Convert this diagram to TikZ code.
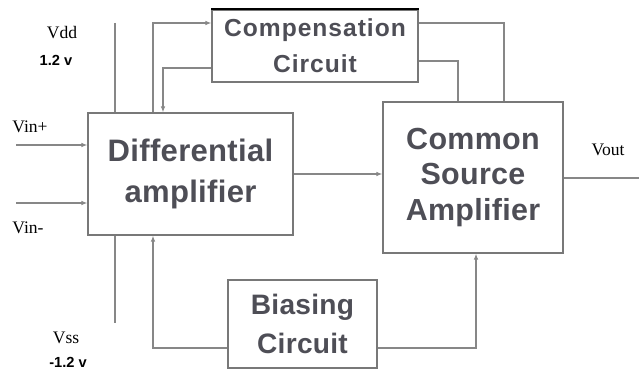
\documentclass[tikz,border=0pt]{standalone}
\usepackage{fontspec}
\usetikzlibrary{arrows.meta}
\setmainfont{Liberation Serif}
\newfontfamily\blockfont[LetterSpace=1]{Liberation Sans Bold}
\newfontfamily\compfont[LetterSpace=4]{Liberation Sans Bold}
\newfontfamily\supplyfont{Liberation Sans}
\definecolor{boxgray}{RGB}{120,120,120}
\definecolor{wiregray}{RGB}{135,135,135}
\definecolor{txtgray}{RGB}{78,78,86}

\begin{document}
\begin{tikzpicture}[
    x=0.03cm, y=-0.03cm,
    blk/.style={rectangle, draw=boxgray, line width=1.2pt, align=center, text=txtgray, inner sep=0pt},
    wire/.style={draw=wiregray, line width=1.1pt},
    sig/.style={wire, -{Latex[length=5pt,width=4pt]}},
    lbl/.style={font=\fontsize{15}{17}\selectfont},
    supply/.style={font=\supplyfont\bfseries\fontsize{12.5}{14}\selectfont}
]
\useasboundingbox (0,0) rectangle (639,370);

% Bloc Compensation
\node[blk, minimum width=6.18cm, minimum height=2.16cm, font=\compfont\fontsize{21}{31}\selectfont] (comp) at (315,46) {Compensation\\Circuit};
\draw[line width=1.6pt, black] (comp.north west) -- (comp.north east);

% Bloc Differential
\node[blk, minimum width=6.15cm, minimum height=3.66cm, font=\blockfont\fontsize{26.5}{35}\selectfont] (diff) at (190.5,174) {Differential\\amplifier};

% Bloc Common Source
\node[blk, minimum width=5.4cm, minimum height=4.53cm, font=\blockfont\fontsize{26}{30}\selectfont] (cs) at (473,177.5) {Common\\Source\\Amplifier};

% Bloc Biasing
\node[blk, minimum width=4.47cm, minimum height=2.64cm, font=\blockfont\fontsize{24}{34}\selectfont] (bias) at (302.5,324) {Biasing\\Circuit};

% Labels
\node[lbl] (vdd) at (62,33) {Vdd};
\node[supply] (vddval) at (56,60) {1.2 v};
\node[lbl] (vss) at (66,338) {Vss};
\node[supply] (vssval) at (68,362) {-1.2 v};
\node[lbl] (vinplbl) at (30,127) {Vin+};
\node[lbl] (vinmlbl) at (28,228) {Vin-};
\node[lbl] (voutlbl) at (608,150) {Vout};

% Points
\coordinate (vddtop) at (115,23);
\coordinate (vssend) at (115,323);
\coordinate (vinp) at (16,145);
\coordinate (vinm) at (16,203);
\coordinate (fbup) at (153,23);
\coordinate (fbdown) at (163,68);
\coordinate (cmpa) at (504,23);
\coordinate (cmpb) at (458,61);
\coordinate (biasl) at (153,348);
\coordinate (biasr) at (476,348);
\coordinate (vout) at (639,178);

% Alimentation
\draw[wire] (vddtop) -- (vddtop |- diff.north);
\draw[wire] (vssend |- diff.south) -- (vssend);

% Entrees
\draw[sig] (vinp) -- (vinp -| diff.west);
\draw[sig] (vinm) -- (vinm -| diff.west);

% Compensation
\draw[sig] (fbup |- diff.north) -- (fbup) -- (fbup -| comp.west);
\draw[sig] (fbdown -| comp.west) -- (fbdown) -- (fbdown |- diff.north);
\draw[wire] (cmpa -| comp.east) -- (cmpa) -- (cmpa |- cs.north);
\draw[wire] (cmpb -| comp.east) -- (cmpb) -- (cmpb |- cs.north);

% Etage principal
\draw[sig] (diff.east) -- (diff.east -| cs.west);
\draw[wire] (vout -| cs.east) -- (vout);

% Polarisation
\draw[sig] (biasl -| bias.west) -- (biasl) -- (biasl |- diff.south);
\draw[sig] (biasr -| bias.east) -- (biasr) -- (biasr |- cs.south);

\end{tikzpicture}
\end{document}
